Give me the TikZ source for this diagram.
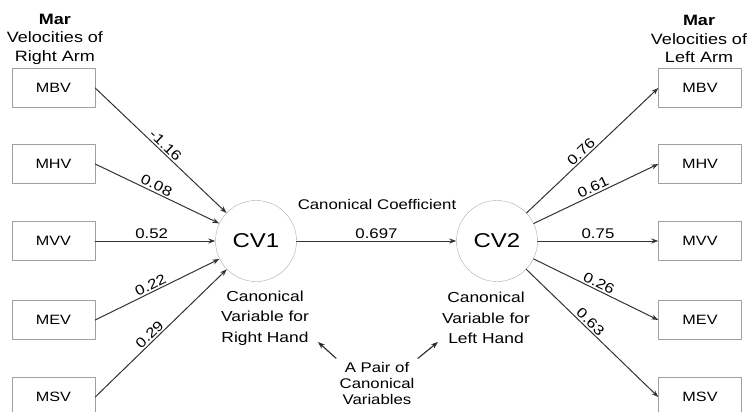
\documentclass[tikz,border=0pt]{standalone}
\usepackage{fontspec}
\setmainfont[FakeStretch=1.2]{Liberation Sans}
\usetikzlibrary{calc,arrows.meta}

\tikzset{
  varbox/.style={draw=gray!75,thin,minimum width=83pt,minimum height=39pt,
    inner sep=0pt,font=\fontsize{13.5}{15}\selectfont},
  cvar/.style={circle,draw=gray!65,thin,minimum size=81pt,inner sep=0pt,
    font=\fontsize{20}{22}\selectfont},
  load/.style={->,draw=black!80,line width=1pt},
  coef/.style={sloped,above,inner sep=1.5pt,font=\fontsize{14}{16}\selectfont},
  caption/.style={align=center,font=\fontsize{14.5}{20.5}\selectfont}
}

\begin{document}
\begin{tikzpicture}[line cap=round,line join=round,>={Stealth[length=7pt,width=5pt]},x=1pt,y=-1pt]

\useasboundingbox (0,0) rectangle (747,412);

% -----------------------
% Headers
% -----------------------
\node[align=center,font=\fontsize{15}{18.5}\selectfont] (hdrR) at (55,39)
  {\textbf{Mar}\\Velocities of\\Right Arm};
\node[align=center,font=\fontsize{15}{18.5}\selectfont] (hdrL) at (699,39)
  {\textbf{Mar}\\Velocities of\\Left Arm};

% -----------------------
% Right arm variables
% -----------------------
\node[varbox] (rMBV) at (53.5,88)  {MBV};
\node[varbox] (rMHV) at (53.5,164) {MHV};
\node[varbox] (rMVV) at (53.5,241) {MVV};
\node[varbox] (rMEV) at (53.5,320) {MEV};
\node[varbox] (rMSV) at (53.5,397) {MSV};

% Left arm variables
\node[varbox] (lMBV) at (700,88)  {MBV};
\node[varbox] (lMHV) at (700,164) {MHV};
\node[varbox] (lMVV) at (700,241) {MVV};
\node[varbox] (lMEV) at (700,320) {MEV};
\node[varbox] (lMSV) at (700,397) {MSV};

% -----------------------
% Canonical variables
% -----------------------
\node[cvar] (cv1) at (256,241) {CV1};
\node[cvar] (cv2) at (497,241) {CV2};

\node[caption] (capR) at (265,318) {Canonical\\Variable for\\Right Hand};
\node[caption] (capL) at (486,318) {Canonical\\Variable for\\Left Hand};

% Loadings (right hand)
\draw[load] (rMBV.east) -- (cv1) node[coef,pos=0.5] {-1.16};
\draw[load] (rMHV.east) -- (cv1) node[coef,pos=0.47] {0.08};
\draw[load] (rMVV.east) -- (cv1) node[coef,pos=0.47] {0.52};
\draw[load] (rMEV.east) -- (cv1) node[coef,pos=0.47] {0.22};
\draw[load] (rMSV.east) -- (cv1) node[coef,pos=0.45] {0.29};

% Loadings (left hand)
\draw[load] (cv2) -- (lMBV.west) node[coef,pos=0.45] {0.76};
\draw[load] (cv2) -- (lMHV.west) node[coef,pos=0.5] {0.61};
\draw[load] (cv2) -- (lMVV.west) node[coef,pos=0.5] {0.75};
\draw[load] (cv2) -- (lMEV.west) node[coef,pos=0.5] {0.26};
\draw[load] (cv2) -- (lMSV.west) node[coef,pos=0.45] {0.63};

% Canonical coefficient
\node[font=\fontsize{14}{16}\selectfont] (ccoef) at (377,204) {Canonical Coefficient};
\draw[load] (cv1) -- (cv2) node[coef,pos=0.5] {0.697};

% -----------------------
% Pair of canonical variables
% -----------------------
\node[align=center,font=\fontsize{14}{16}\selectfont] (pair) at (377,383)
  {A Pair of\\Canonical\\Variables};
\coordinate (rhTip) at (318,342);
\coordinate (lhTip) at (438,342);
\draw[->,line width=1.1pt,black!85] (pair.north west) -- (rhTip);
\draw[->,line width=1.1pt,black!85] (pair.north east) -- (lhTip);

\end{tikzpicture}
\end{document}
